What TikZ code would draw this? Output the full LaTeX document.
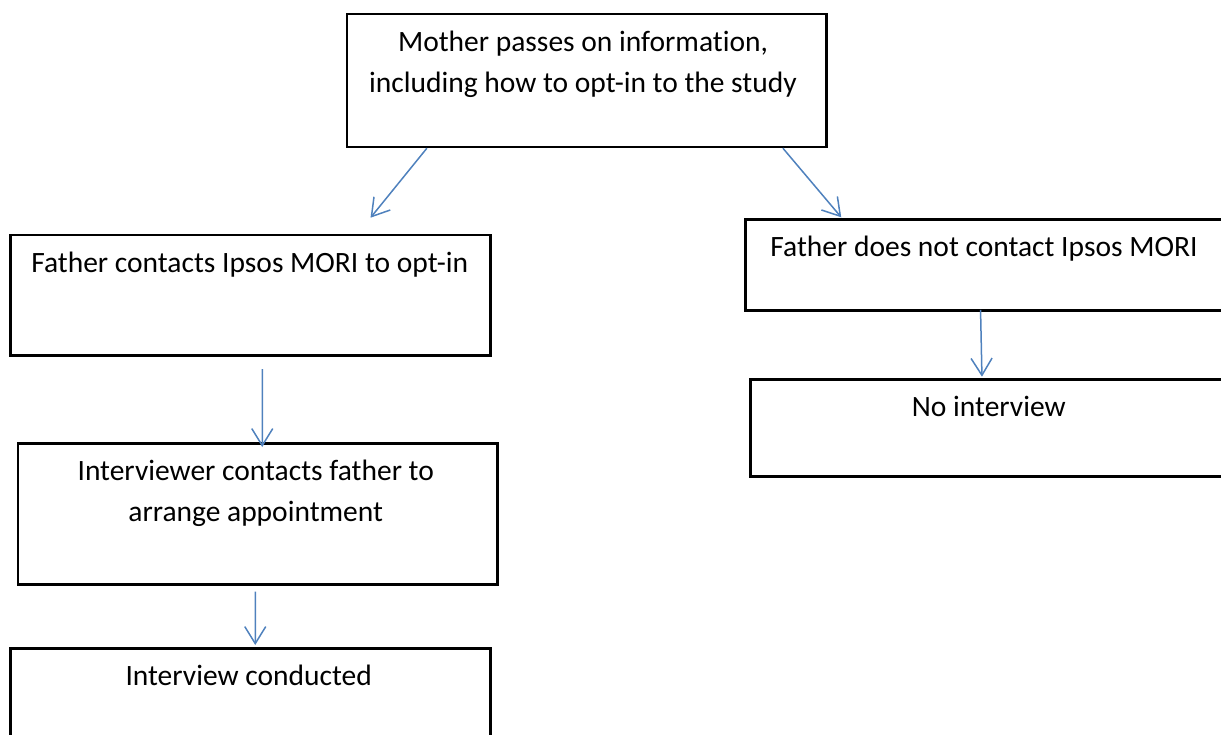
\documentclass[tikz,border=0pt]{standalone}
\usepackage{fontspec}
\setmainfont{Carlito}[Ligatures=CommonOff]
\usetikzlibrary{arrows.meta}
\definecolor{arrowblue}{HTML}{4F81BD}
\tikzset{
  box/.style={draw=black, line width=2.5pt, rectangle, inner sep=0pt, anchor=north west, fill=none},
  txt/.style={inner sep=0pt, anchor=base, align=center, font=\fontsize{29.5}{41}\selectfont},
  arr/.style={draw=arrowblue, line width=1.5pt, -{Straight Barb[length=17pt,width=21pt,line width=1.5pt]}}
}
\begin{document}
\begin{tikzpicture}[x=1pt,y=-1pt]
\useasboundingbox (0,0) rectangle (1221,735);
\clip (0,0) rectangle (1221,735);
% boxes
\node[box, minimum width=479.5pt, minimum height=133pt] (top) at (345.5,12.7) {};
\node[box, minimum width=480pt, minimum height=120pt] (l1) at (9,234) {};
\node[box, minimum width=496pt, minimum height=91pt] (r1) at (744,218.3) {};
\node[box, minimum width=491pt, minimum height=96.7pt] (r2) at (749,378.3) {};
\node[box, minimum width=479.3pt, minimum height=141.3pt] (l2) at (16.7,442) {};
\node[box, minimum width=480pt, minimum height=120pt] (l3) at (9,647) {};
% texts (multi-line nodes: base is the last line's baseline)
\node[txt] (topt) at (583,92.7) {Mother passes on information,\\including how to opt-in to the study};
\node[txt] (l1t) at (249.7,272.7) {Father contacts Ipsos MORI to opt-in};
\node[txt] (r1t) at (984,256.7) {Father does not contact Ipsos MORI};
\node[txt] (r2t) at (988.8,416.7) {No interview};
\node[txt] (l2t) at (255.7,521.7) {Interviewer contacts father to\\arrange appointment};
\node[txt] (l3t) at (248.7,685) {Interview conducted};
% connectors
\draw[arr] ([xshift=-159.6pt]top.south) -- ([xshift=120.3pt,yshift=16.3pt]l1.north);
\draw[arr] ([xshift=196.4pt]top.south) -- ([xshift=-152pt,yshift=1pt]r1.north);
\draw[arr] ([xshift=-12.7pt,yshift=2pt]r1.south) -- ([xshift=-13.8pt,yshift=1.6pt]r2.north);
\draw[arr] ([xshift=12pt,yshift=-12.7pt]l1.south) -- ([xshift=4.65pt,yshift=-5pt]l2.north);
\draw[arr] ([xshift=-2.35pt,yshift=-5.7pt]l2.south) -- ([xshift=5pt,yshift=2pt]l3.north);
\end{tikzpicture}
\end{document}
